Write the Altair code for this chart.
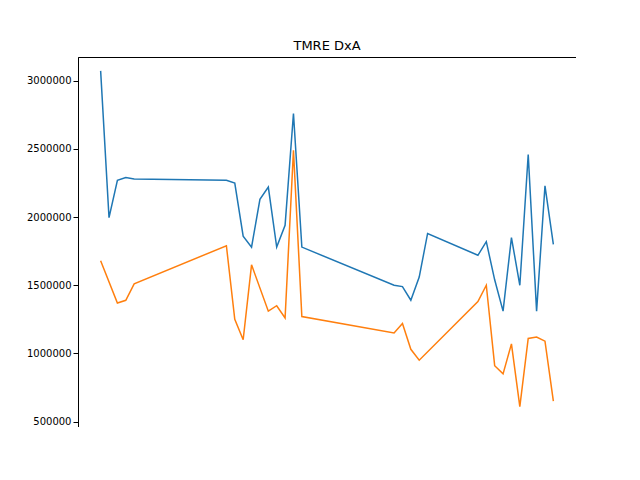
import altair as alt
import pandas as pd

sd_x = [0,1,2,3,4,15,16,17,18,19,20,21,22,23,24,35,36,37,38,39,45,46,47,48,49,50,51,52,53,54]
sd_y = [3073000,1996000,2270000,2290000,2280000,2270000,2250000,1860000,1780000,2130000,2220000,1780000,1940000,2760000,1780000,1500000,1490000,1390000,1560000,1880000,1720000,1820000,1540000,1310000,1850000,1500000,2460000,1310000,2230000,1800000]
med_x = [0,2,3,4,15,16,17,18,20,21,22,23,24,35,36,37,38,45,46,47,48,49,50,51,52,53,54]
med_y = [1680000,1370000,1390000,1510000,1790000,1250000,1100000,1650000,1310000,1350000,1260000,2490000,1270000,1150000,1220000,1030000,950000,1380000,1500000,910000,850000,1070000,610000,1110000,1120000,1090000,650000]

df = pd.concat([
    pd.DataFrame({"x": sd_x, "y": sd_y, "s": "SD"}),
    pd.DataFrame({"x": med_x, "y": med_y, "s": "Median"}),
])

ax = dict(grid=False, labelFontSize=10, tickColor="black", domainColor="black", labelColor="black")
chart = alt.Chart(df).mark_line(strokeWidth=1.5).encode(
    x=alt.X("x:Q", title=None, scale=alt.Scale(domain=[-2.7, 56.7], nice=False),
            axis=alt.Axis(values=[0,10,20,30,40,50], **ax)),
    y=alt.Y("y:Q", title=None, scale=alt.Scale(domain=[460000, 3175000], nice=False),
            axis=alt.Axis(values=[500000,1000000,1500000,2000000,2500000,3000000], format="d", **ax)),
    color=alt.Color("s:N", scale=alt.Scale(domain=["SD","Median"], range=["#1f77b4","#ff7f0e"]),
                    legend=alt.Legend(title=None, orient="none", legendX=158, legendY=398, direction="horizontal", labelFontSize=11,
                                      strokeColor="#999", padding=5, fillColor="white", symbolType="stroke", columnPadding=25)),
    detail="s:N",
    order="x:Q",
).properties(width=498, height=370, title=alt.Title("TMRE DxA", fontSize=13, fontWeight="normal"),
             autosize=alt.AutoSizeParams(type="none"),
             padding={"left": 70, "top": 49, "right": 0, "bottom": 0}
).configure(font="DejaVu Sans").configure_view(stroke="black")

chart.save("out.html", embed_options={"renderer": "svg", "actions": False})
